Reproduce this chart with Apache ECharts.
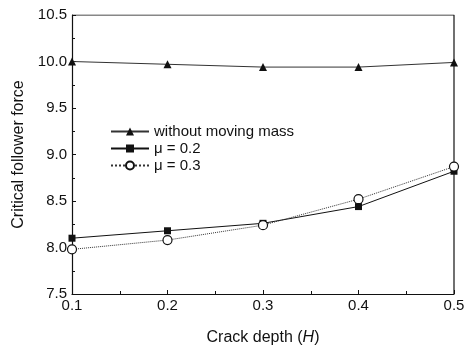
<!DOCTYPE html>
<html><head><meta charset="utf-8">
<script src="https://cdn.jsdelivr.net/npm/echarts@6/dist/echarts.min.js"></script>
<style>html,body{margin:0;padding:0;background:#fff}#c{width:465px;height:349px}</style>
</head><body><div id="c"></div>
<script>
const crackDepth = [0.1, 0.2, 0.3, 0.4, 0.5];
const withoutMass = [10.0, 9.97, 9.94, 9.94, 9.99];
const mu02 = [8.10, 8.18, 8.26, 8.44, 8.82];
const mu03 = [7.98, 8.08, 8.24, 8.52, 8.87];
const seriesNames = ['without moving mass', 'μ = 0.2', 'μ = 0.3'];

const font = 'Liberation Sans, Arial, sans-serif';
const chart = echarts.init(document.getElementById('c'));
const pairs = a => crackDepth.map((x, i) => [x, a[i]]);
chart.setOption({
  animation: false,
  backgroundColor: '#fff',
  grid: {left: 72, right: 11, top: 15, bottom: 55, containLabel: false, outerBoundsMode: 'none'},
  legend: {
    orient: 'vertical', left: 105, top: 119, itemWidth: 38, itemHeight: 10, itemGap: 2,
    textStyle: {fontFamily: font, fontSize: 15, color: '#111'},
    data: seriesNames
  },
  xAxis: {
    type: 'value', min: 0.1, max: 0.5, interval: 0.1,
    name: 'Crack depth ({i|H})', nameLocation: 'middle', nameGap: 36,
    nameTextStyle: {fontFamily: font, fontSize: 16, color: '#111',
      rich: {i: {fontStyle: 'italic', fontFamily: font, fontSize: 16, color: '#111'}}},
    axisLine: {onZero: false, lineStyle: {color: '#111', width: 1.2}},
    axisTick: {inside: true, length: 4, lineStyle: {color: '#111'}},
    minorTick: {show: true, splitNumber: 2, length: 3, lineStyle: {color: '#111'}},
    splitLine: {show: false},
    axisLabel: {fontFamily: font, fontSize: 15, color: '#111', margin: 4,
      formatter: v => v.toFixed(1)}
  },
  yAxis: {
    type: 'value', min: 7.5, max: 10.5, interval: 0.5,
    name: 'Critical follower force', nameLocation: 'middle', nameGap: 42,
    nameTextStyle: {fontFamily: font, fontSize: 16, color: '#111'},
    axisLine: {onZero: false, lineStyle: {color: '#111', width: 1.2}},
    axisTick: {inside: true, length: 4, lineStyle: {color: '#111'}},
    minorTick: {show: true, splitNumber: 2, length: 3, lineStyle: {color: '#111'}},
    splitLine: {show: false},
    axisLabel: {fontFamily: font, fontSize: 15, color: '#111', margin: 5,
      formatter: v => v.toFixed(1)}
  },
  series: [
    {name: seriesNames[0], type: 'line', data: pairs(withoutMass), symbol: 'triangle', symbolSize: 8,
     itemStyle: {color: '#111'}, lineStyle: {color: '#333', width: 1}},
    {name: seriesNames[1], type: 'line', data: pairs(mu02), symbol: 'rect', symbolSize: 7,
     itemStyle: {color: '#111'}, lineStyle: {color: '#111', width: 1}},
    {name: seriesNames[2], type: 'line', data: pairs(mu03), symbol: 'circle', symbolSize: 9,
     itemStyle: {color: '#fff', borderColor: '#111', borderWidth: 1.2}, lineStyle: {color: '#333', width: 1, type: 'dotted'}},
    {type: 'line', data: [[0.1, 10.5], [0.5, 10.5], [0.5, 7.5]], symbol: 'none', silent: true,
     lineStyle: {color: '#111', width: 1.2}, z: 1}
  ]
});
</script></body></html>
